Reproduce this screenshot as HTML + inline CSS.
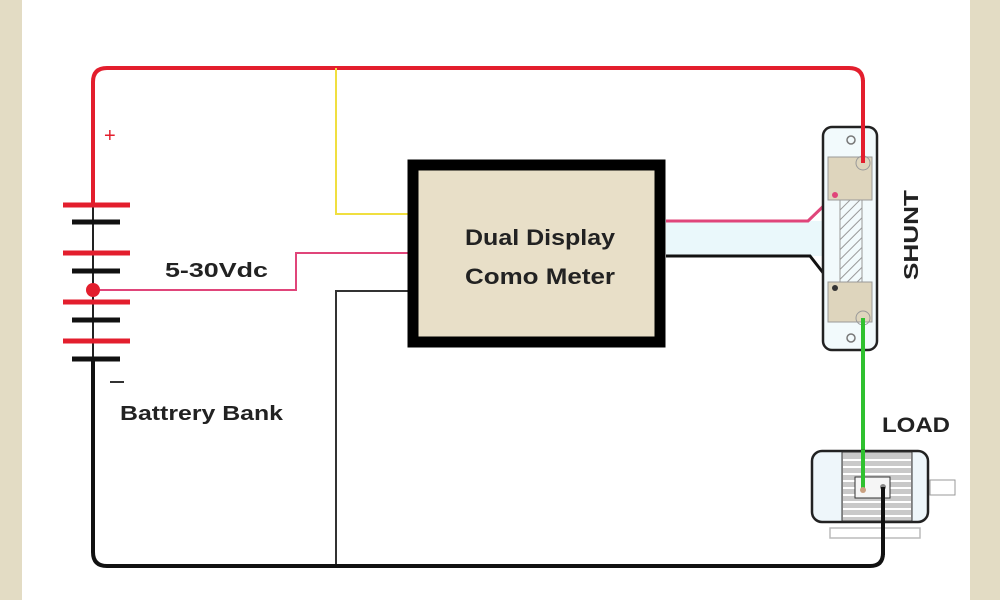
<!DOCTYPE html>
<html><head><meta charset="utf-8"><style>
body{margin:0;width:1000px;height:600px;overflow:hidden;background:#fff}
svg{display:block}
text{font-family:"Liberation Sans",sans-serif;font-weight:bold;fill:#222}
</style></head><body>
<svg width="1000" height="600" viewBox="0 0 1000 600">
<defs>
<pattern id="h" width="7" height="7" patternUnits="userSpaceOnUse" patternTransform="rotate(45)">
<line x1="0" y1="0" x2="0" y2="7" stroke="#999" stroke-width="2"/></pattern>
</defs>
<rect x="0" y="0" width="22" height="600" fill="#e3dcc4"/>
<rect x="970" y="0" width="30" height="600" fill="#e3dcc4"/>

<path d="M93 205 V82 Q93 68 107 68 H849 Q863 68 863 82 V163" fill="none" stroke="#e31e2d" stroke-width="4"/>
<path d="M336 68 V214 H408" fill="none" stroke="#f0df40" stroke-width="2"/>
<path d="M93 290 H296 V253 H408" fill="none" stroke="#e0457a" stroke-width="2"/>
<path d="M408 291 H336 V566" fill="none" stroke="#333" stroke-width="2"/>
<path d="M93 360 V552 Q93 566 107 566 H870 Q883 566 883 553 V487" fill="none" stroke="#111" stroke-width="4"/>

<g stroke-width="5" stroke-linecap="butt">
<line x1="93" y1="205" x2="93" y2="360" stroke="#222" stroke-width="2"/>
<line x1="63" y1="205" x2="130" y2="205" stroke="#e31e2d"/>
<line x1="72" y1="222" x2="120" y2="222" stroke="#111"/>
<line x1="63" y1="253" x2="130" y2="253" stroke="#e31e2d"/>
<line x1="72" y1="271" x2="120" y2="271" stroke="#111"/>
<line x1="63" y1="302" x2="130" y2="302" stroke="#e31e2d"/>
<line x1="72" y1="320" x2="120" y2="320" stroke="#111"/>
<line x1="63" y1="341" x2="130" y2="341" stroke="#e31e2d"/>
<line x1="72" y1="359" x2="120" y2="359" stroke="#111"/>
</g>
<circle cx="93" cy="290" r="7" fill="#e31e2d"/>
<text x="104" y="142" style="fill:#e31e2d;font-weight:normal" font-size="20">+</text>
<line x1="110" y1="382" x2="124" y2="382" stroke="#333" stroke-width="2"/>
<text x="165" y="277" font-size="20" textLength="103" lengthAdjust="spacingAndGlyphs">5-30Vdc</text>
<text x="120" y="420" font-size="20" textLength="163" lengthAdjust="spacingAndGlyphs">Battrery Bank</text>

<rect x="413" y="165" width="247" height="177" fill="#e8dfc8" stroke="#000" stroke-width="11"/>
<text x="465" y="245" font-size="22" textLength="150" lengthAdjust="spacingAndGlyphs">Dual Display</text>
<text x="465" y="284" font-size="22" textLength="150" lengthAdjust="spacingAndGlyphs">Como Meter</text>

<rect x="666" y="221" width="157" height="35" fill="#eaf8fb"/>
<path d="M666 221 H808 L835 195" fill="none" stroke="#e0457a" stroke-width="3"/>
<path d="M666 256 H810 L835 288" fill="none" stroke="#111" stroke-width="3"/>

<rect x="823" y="127" width="54" height="223" rx="9" fill="#f2fafc" stroke="#222" stroke-width="2.5"/>
<rect x="828" y="157" width="44" height="43" fill="#ded5bd" stroke="#999"/>
<rect x="828" y="282" width="44" height="40" fill="#ded5bd" stroke="#999"/>
<rect x="840" y="200" width="22" height="82" fill="url(#h)" stroke="#999"/>
<circle cx="851" cy="140" r="4" fill="none" stroke="#777" stroke-width="1.5"/>
<circle cx="851" cy="338" r="4" fill="none" stroke="#777" stroke-width="1.5"/>
<circle cx="863" cy="163" r="7" fill="none" stroke="#999"/>
<circle cx="863" cy="318" r="7" fill="none" stroke="#999"/>
<line x1="863" y1="80" x2="863" y2="163" stroke="#e31e2d" stroke-width="4"/>
<circle cx="835" cy="195" r="3" fill="#e0457a"/>
<circle cx="835" cy="288" r="3" fill="#333"/>
<text transform="translate(918,280) rotate(-90)" font-size="20" textLength="90" lengthAdjust="spacingAndGlyphs">SHUNT</text>

<line x1="863" y1="318" x2="863" y2="490" stroke="#2fc12f" stroke-width="4"/>

<text x="882" y="432" font-size="21" textLength="68" lengthAdjust="spacingAndGlyphs">LOAD</text>
<rect x="830" y="528" width="90" height="10" fill="none" stroke="#bbb" stroke-width="1.5"/>
<rect x="930" y="480" width="25" height="15" fill="none" stroke="#999"/>
<rect x="812" y="451" width="116" height="71" rx="10" fill="#eef6fa" stroke="#222" stroke-width="2.5"/>
<rect x="842" y="452" width="70" height="69" fill="#c9c9c9" stroke="#333"/>
<g stroke="#fff" stroke-width="2">
<line x1="843" y1="460" x2="911" y2="460"/><line x1="843" y1="467" x2="911" y2="467"/><line x1="843" y1="474" x2="911" y2="474"/><line x1="843" y1="481" x2="911" y2="481"/><line x1="843" y1="488" x2="911" y2="488"/><line x1="843" y1="495" x2="911" y2="495"/><line x1="843" y1="502" x2="911" y2="502"/><line x1="843" y1="509" x2="911" y2="509"/><line x1="843" y1="516" x2="911" y2="516"/>
</g>
<rect x="855" y="477" width="35" height="21" fill="#f5f5f5" stroke="#333"/>
<line x1="863" y1="450" x2="863" y2="490" stroke="#2fc12f" stroke-width="4"/>
<circle cx="863" cy="490" r="3" fill="#c9a080"/>
<circle cx="883" cy="487" r="3" fill="#888"/>
<line x1="883" y1="487" x2="883" y2="555" stroke="#111" stroke-width="4"/>
</svg>
</body></html>
